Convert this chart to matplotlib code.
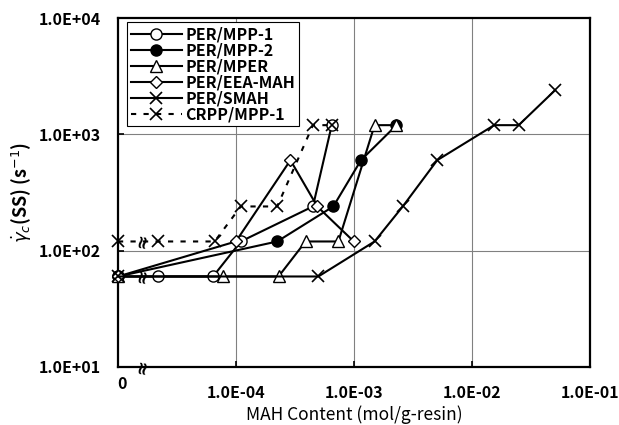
import matplotlib.pyplot as plt
import numpy as np

plt.rcParams['font.family'] = ['Noto Sans CJK JP', 'DejaVu Sans']

# MAH content (mol/g-resin), 0 = no MAH; critical shear rate (1/s)
mpp1_x = [0, 2.2e-5, 6.4e-5, 1.1e-4, 4.5e-4, 6.5e-4]
mpp1_y = [60, 60, 60, 120, 240, 1200]

mpp2_x = [0, 2.24e-4, 6.7e-4, 1.15e-3, 2.3e-3]
mpp2_y = [60, 120, 240, 600, 1200]

mper_x = [0, 7.7e-5, 2.3e-4, 3.9e-4, 7.4e-4, 1.5e-3, 2.3e-3]
mper_y = [60, 60, 60, 120, 120, 1200, 1200]

eea_x = [0, 1.0e-4, 2.9e-4, 4.9e-4, 1.0e-3]
eea_y = [60, 120, 600, 240, 120]

smah_x = [0, 5.0e-4, 1.5e-3, 2.6e-3, 5.1e-3, 1.55e-2, 2.5e-2, 5.1e-2]
smah_y = [60, 60, 120, 240, 600, 1200, 1200, 2400]

crpp_x = [0, 2.2e-5, 6.6e-5, 1.1e-4, 2.24e-4, 4.5e-4, 6.5e-4]
crpp_y = [120, 120, 120, 240, 240, 1200, 1200]

labels = ['PER/MPP-1', 'PER/MPP-2', 'PER/MPER', 'PER/EEA-MAH', 'PER/SMAH', 'CRPP/MPP-1']
xtick_vals = [1e-4, 1e-3, 1e-2, 1e-1]
xtick_labels = ['1.0E-04', '1.0E-03', '1.0E-02', '1.0E-01']
ytick_vals = [1e1, 1e2, 1e3, 1e4]
ytick_labels = ['1.0E+01', '1.0E+02', '1.0E+03', '1.0E+04']

ZERO = 1e-5  # where "0" sits on the log axis


def xpos(x):
    x = np.array(x, dtype=float)
    return np.where(x == 0, ZERO, x)


fig = plt.figure(figsize=(6.19, 4.25), dpi=100)
ax = fig.add_axes([0.1906, 0.1365, 0.762, 0.821])

common = dict(color='black', lw=1.5, ms=8, clip_on=False, zorder=3)
ax.plot(xpos(mpp1_x), mpp1_y, marker='o', mfc='white', label=labels[0], **common)
ax.plot(xpos(mpp2_x), mpp2_y, marker='o', mfc='black', label=labels[1], **common)
ax.plot(xpos(mper_x), mper_y, marker='^', mfc='white', label=labels[2], **common)
ax.plot(xpos(eea_x), eea_y, marker='D', ms=6.5, mfc='white', label=labels[3],
        color='black', lw=1.5, clip_on=False, zorder=3)
ax.plot(xpos(smah_x), smah_y, marker='x', mew=1.2, ms=9, label=labels[4],
        color='black', lw=1.5, clip_on=False, zorder=3)
ax.plot(xpos(crpp_x), crpp_y, marker='x', mew=1.2, ms=9, ls=(0, (2.5, 3.5)), label=labels[5],
        color='black', lw=1.5, clip_on=False, zorder=3)

ax.set_xscale('log')
ax.set_yscale('log')
ax.set_xlim(1e-5, 1e-1)
ax.set_ylim(1e1, 1e4)
ax.set_xticks(xtick_vals)
ax.set_xticklabels(xtick_labels, fontsize=11.5, fontweight='bold')
ax.set_yticks(ytick_vals)
ax.set_yticklabels(ytick_labels, fontsize=11.5, fontweight='bold')
ax.minorticks_off()
ax.tick_params(axis='x', direction='in', length=4, width=1.2, pad=13)
ax.tick_params(axis='y', direction='in', length=4, width=1.2, pad=12)
ax.annotate('0', xy=(ZERO, 10), xytext=(3, -12), textcoords='offset points',
            ha='center', va='center', fontsize=11.5, fontweight='bold')

for v in [1e-4, 1e-3, 1e-2]:
    ax.axvline(v, color='gray', lw=0.8, zorder=1)
for v in [1e2, 1e3]:
    ax.axhline(v, color='gray', lw=0.8, zorder=1)

for s in ax.spines.values():
    s.set_linewidth(1.6)

# axis break marks near zero
for yb in [60, 120, 10]:
    ax.text(1.62e-5, yb, '≈', rotation=80, fontsize=13, ha='center', va='center',
            fontweight='bold', zorder=4, clip_on=False, family='DejaVu Sans')

ax.set_xlabel('MAH Content (mol/g-resin)', fontsize=12.5)
ax.xaxis.label.set_va('center')
ax.xaxis.set_label_coords(0.5, -0.137)
ax.set_ylabel(r'$\dot{\gamma}_c$(SS) (s$^{-1}$)', fontsize=13, fontweight='bold')

leg = ax.legend(loc='upper left', prop={'size': 11.5, 'weight': 'bold'}, handlelength=3.2,
                labelspacing=0.0, borderpad=0.25, handletextpad=0.2, fancybox=False,
                framealpha=1, bbox_to_anchor=(0.012, 0.997), borderaxespad=0.2)
leg.get_frame().set_edgecolor('black')
leg.get_frame().set_linewidth(0.8)

fig.savefig('out.png', dpi=100)
